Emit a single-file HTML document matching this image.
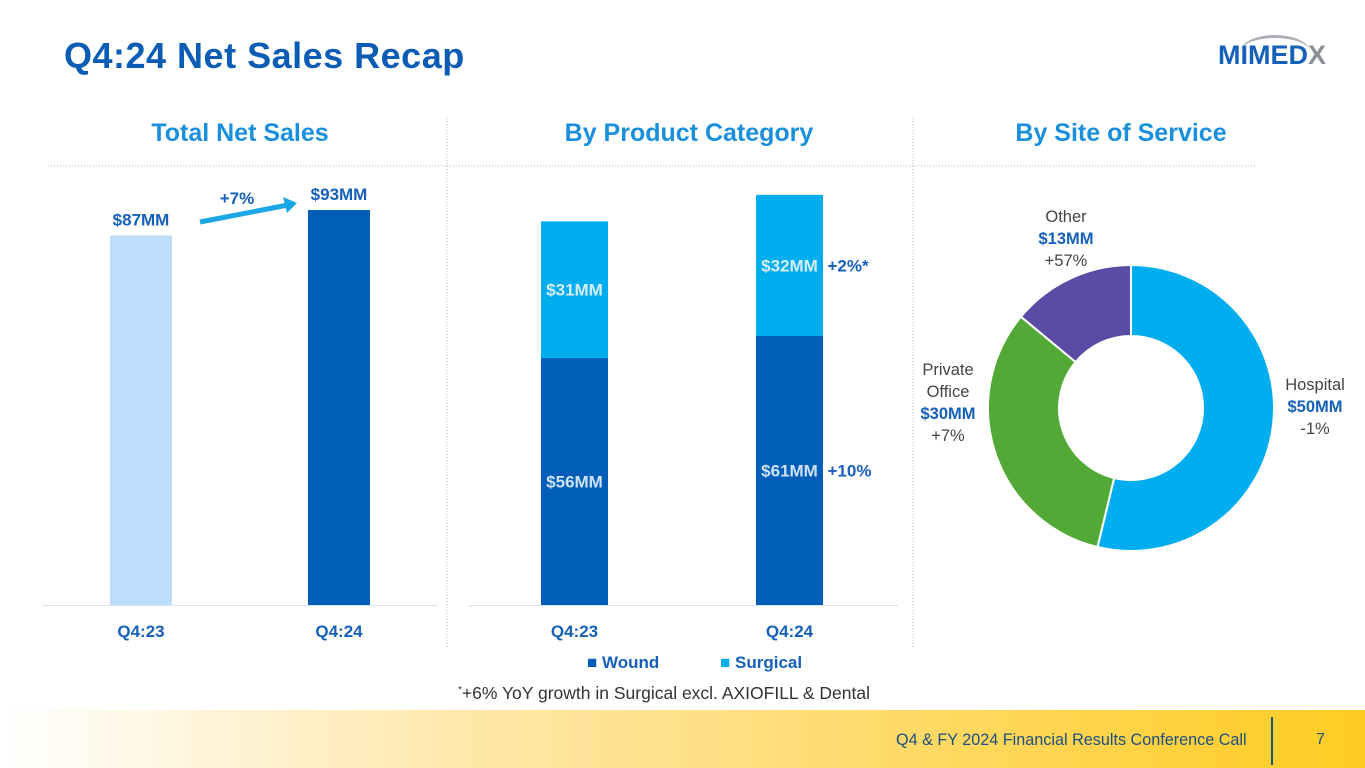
<!DOCTYPE html>
<html><head><meta charset="utf-8"><style>
body{margin:0;width:1365px;height:768px;overflow:hidden;background:#fff;font-family:"Liberation Sans",sans-serif;position:relative}
.abs{position:absolute}
</style></head><body>
<div class="abs" style="left:64px;top:35px;font-size:36px;font-weight:bold;color:#0B5CB5;letter-spacing:0.5px">Q4:24 Net Sales Recap</div>
<div class="abs" style="left:1218px;top:40px;font-size:27px;font-weight:bold;color:#1560B8;letter-spacing:0px">MIMED<span style="color:#8a8f96">X</span></div>
<div class="abs" style="left:1240px;top:35px;width:70px;height:14px;border-top:3px solid #aab0b6;border-radius:50%/100% 100% 0 0"></div>
<div class="abs" style="left:0;top:710px;width:1365px;height:58px;background:linear-gradient(90deg,#fff 0%,#FFE7A8 35%,#FFCC22 100%)"></div>
<div class="abs" style="left:896px;top:731px;font-size:16.2px;color:#1C4E80">Q4 &amp; FY 2024 Financial Results Conference Call</div>
<div class="abs" style="left:1271px;top:717px;width:2px;height:48px;background:#1C4E80"></div>
<div class="abs" style="left:1316px;top:731px;font-size:16px;color:#1C4E80">7</div>
<svg class="abs" style="left:0;top:0" width="1365" height="710" id="chart" font-family="Liberation Sans, sans-serif">
<line x1="48" y1="166" x2="1256" y2="166" stroke="#bbb" stroke-dasharray="1,2"/>
<line x1="447" y1="118" x2="447" y2="648" stroke="#bbb" stroke-dasharray="1,2"/>
<line x1="913" y1="118" x2="913" y2="648" stroke="#bbb" stroke-dasharray="1,2"/>
<text x="240" y="141" text-anchor="middle" font-size="25" font-weight="bold" fill="#1A8FDB">Total Net Sales</text>
<text x="689" y="141" text-anchor="middle" font-size="25" font-weight="bold" fill="#1A8FDB">By Product Category</text>
<text x="1121" y="141" text-anchor="middle" font-size="25" font-weight="bold" fill="#1A8FDB">By Site of Service</text>
<line x1="42" y1="605.5" x2="438" y2="605.5" stroke="#d9e3ee"/>
<line x1="468" y1="605.5" x2="898" y2="605.5" stroke="#d9e3ee"/>
<line x1="200" y1="222" x2="288" y2="205" stroke="#1BA6E6" stroke-width="5"/>
<polygon points="297,203 283,197 287,213" fill="#1BA6E6"/>
<text x="237" y="204" text-anchor="middle" font-size="17" font-weight="bold" fill="#1560B8">+7%</text>
<text x="587" y="668" font-size="17" font-weight="bold" fill="#1560B8"><tspan fill="#005EB8">■</tspan> Wound</text>
<text x="720" y="668" font-size="17" font-weight="bold" fill="#1560B8"><tspan fill="#00AEEF">■</tspan> Surgical</text>
<text x="458" y="699" font-size="17.5" fill="#333"><tspan font-size="10" dy="-6">*</tspan><tspan dy="6">+6% YoY growth in Surgical excl. AXIOFILL &amp; Dental</tspan></text>
</svg>
<script>
const totalCats=["Q4:23","Q4:24"];
const totalVals=[87,93];
const totalLabels=["$87MM","$93MM"];
const catCats=["Q4:23","Q4:24"];
const woundVals=[56,61];
const surgicalVals=[31,32];
const woundGrowth=["","+10%"];
const surgicalGrowth=["","+2%*"];
const siteNames=[["Hospital"],["Private","Office"],["Other"]];
const siteVals=[50,30,13];
const siteGrowth=["-1%","+7%","+57%"];
const svg=document.getElementById('chart');const NS='http://www.w3.org/2000/svg';
function mk(t,a,txt){const e=document.createElementNS(NS,t);for(const k in a)e.setAttribute(k,a[k]);if(txt!==undefined)e.textContent=txt;svg.appendChild(e);return e;}
const base=605;
const y1=v=>base-v*4.247;
const x1=i=>141+i*198;
totalVals.forEach((v,i)=>{
 const r=mk('rect',{x:x1(i)-31,y:y1(v),width:62,height:base-y1(v),fill:i?'#005EB8':'#BDDDFB'});
 
 
 const t=mk('text',{x:x1(i),y:y1(v)-10,'text-anchor':'middle','font-size':17,'font-weight':'bold',fill:'#1560B8'},totalLabels[i]);
 
 
 const c=mk('text',{x:x1(i),y:637,'text-anchor':'middle','font-size':17,'font-weight':'bold',fill:'#1560B8'},totalCats[i]);
 
 
});
const y2=v=>v*4.41;
const x2=i=>574.5+i*215;
catCats.forEach((c,i)=>{
 const wh=y2(woundVals[i]),sh=y2(surgicalVals[i]);
 const w=mk('rect',{x:x2(i)-33.5,y:base-wh,width:67,height:wh,fill:'#005EB8'});
 
 
 const s=mk('rect',{x:x2(i)-33.5,y:base-wh-sh,width:67,height:sh,fill:'#00AEEF'});
 
 
 const wl=mk('text',{x:x2(i),y:base-wh/2+6,'text-anchor':'middle','font-size':17,'font-weight':'bold',fill:'#CFE3F7'},'$'+woundVals[i]+'MM');
 
 
 const sl=mk('text',{x:x2(i),y:base-wh-sh/2+6,'text-anchor':'middle','font-size':17,'font-weight':'bold',fill:'#D6EEFA'},'$'+surgicalVals[i]+'MM');
 
 
 if(woundGrowth[i]){const g=mk('text',{x:x2(i)+38,y:base-wh/2+6,'font-size':17,'font-weight':'bold',fill:'#1560B8'},woundGrowth[i]);
 
 }
 if(surgicalGrowth[i]){const g=mk('text',{x:x2(i)+38,y:base-wh-sh/2+6,'font-size':17,'font-weight':'bold',fill:'#1560B8'},surgicalGrowth[i]);
 
 }
 const cl=mk('text',{x:x2(i),y:637,'text-anchor':'middle','font-size':17,'font-weight':'bold',fill:'#1560B8'},c);
 
 
});
const cx=1131,cy=408,R=143,r=72,cols=['#00AEEF','#52A935','#5A4BA5'];
const tot=siteVals.reduce((a,b)=>a+b,0);let a0=0;
const pt=(a,rad)=>[cx+rad*Math.sin(a),cy-rad*Math.cos(a)];
siteVals.forEach((v,i)=>{
 const a1=a0+v/tot*2*Math.PI,lg=(a1-a0)>Math.PI?1:0;
 const [p1,p2,p3,p4]=[pt(a0,R),pt(a1,R),pt(a1,r),pt(a0,r)];
 const p=mk('path',{d:`M${p1}A${R},${R} 0 ${lg} 1 ${p2}L${p3}A${r},${r} 0 ${lg} 0 ${p4}Z`,fill:cols[i],stroke:'#fff','stroke-width':2});
 
 
 a0=a1;
});
const labPos=[[1315,390],[948,375],[1066,222]];
siteNames.forEach((n,i)=>{
 const lines=[...n.map(s=>[s,'normal','#444']),['$'+siteVals[i]+'MM','bold','#1560B8'],[siteGrowth[i],'normal','#444']];
 lines.forEach((l,j)=>{const t=mk('text',{x:labPos[i][0],y:labPos[i][1]+j*22,'text-anchor':'middle','font-size':16.5,'font-weight':l[1],fill:l[2]},l[0]);
 
 });
});
</script>
</body></html>
